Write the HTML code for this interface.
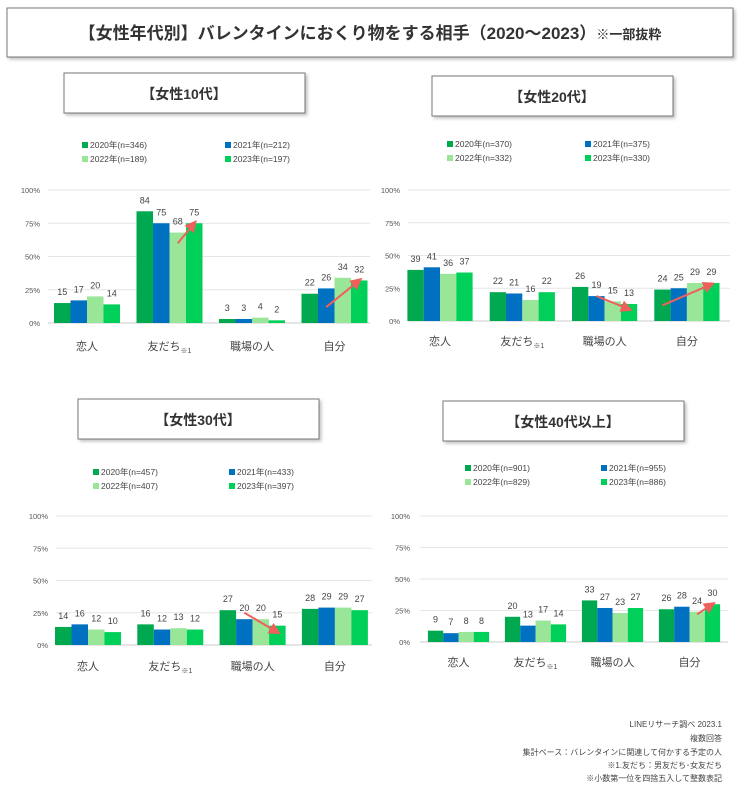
<!DOCTYPE html>
<html><head><meta charset="utf-8">
<style>
body{margin:0;background:#fff;font-family:"Liberation Sans","Noto Sans CJK JP",sans-serif;}
svg text{font-family:"Liberation Sans","Noto Sans CJK JP",sans-serif;}
</style></head>
<body>
<svg id="chart" width="740" height="787" xmlns="http://www.w3.org/2000/svg">
<defs>
<filter id="sh" x="-5%" y="-10%" width="115%" height="140%"><feDropShadow dx="2" dy="2" stdDeviation="1.5" flood-color="#999" flood-opacity="0.6"/></filter>
<marker id="ah" markerWidth="6" markerHeight="6" refX="4" refY="3" orient="auto"><path d="M0,0 L6,3 L0,6 z" fill="#f0605a"/></marker>
</defs>
<rect x="7" y="8" width="726" height="49" fill="#fff" stroke="#777" stroke-width="1" filter="url(#sh)"/>
<text x="370" y="39" text-anchor="middle" font-size="17" font-weight="bold" fill="#333">【女性年代別】バレンタインにおくり物をする相手（2020～2023）<tspan font-size="13">※一部抜粋</tspan></text>
<g font-size="8" fill="#444" text-anchor="end">
<text x="722" y="727">LINEリサーチ調べ 2023.1</text>
<text x="722" y="741">複数回答</text>
<text x="722" y="755">集計ベース：バレンタインに関連して何かする予定の人</text>
<text x="722" y="768">※1.友だち：男友だち･女友だち</text>
<text x="722" y="781">※小数第一位を四捨五入して整数表記</text>
</g>
</svg>
<script>
const categories = ["恋人","友だち","職場の人","自分"];
const seriesYears = ["2020年","2021年","2022年","2023年"];
const tickLabels = ["0%","25%","50%","75%","100%"];
const tickValues = [0,25,50,75,100];
const panelTitles = ["【女性10代】","【女性20代】","【女性30代】","【女性40代以上】"];
const nCounts10 = [346,212,189,197];
const nCounts20 = [370,375,332,330];
const nCounts30 = [457,433,407,397];
const nCounts40 = [901,955,829,886];
// values[series][category]
const values10 = [[15,84,3,22],[17,75,3,26],[20,68,4,34],[14,75,2,32]];
const values20 = [[39,22,26,24],[41,21,19,25],[36,16,15,29],[37,22,13,29]];
const values30 = [[14,16,27,28],[16,12,20,29],[12,13,20,29],[10,12,15,27]];
const values40 = [[9,20,33,26],[7,13,27,28],[8,17,23,24],[8,14,27,30]];
// arrows: [category, fromSeries, fromValue, toSeries, toValue]
const arrows10 = [[1,2,60,3,75],[3,1,12,3,32]];
const arrows20 = [[2,1,19,3,9],[3,0,12,3,28]];
const arrows30 = [[2,1,25,3,10]];
const arrows40 = [[3,2,22,3,30]];

const colors = ["#00a94f","#0070c0","#99e699","#00d05a"];
const panels = [
 {vals:values10,n:nCounts10,arr:arrows10,tb:[64,73],leg:[82,225,148],x0:48,x1:370,yTop:190,yBot:323,lblX:40,catY:350,cx:87,step:82.5,bw:16.5},
 {vals:values20,n:nCounts20,arr:arrows20,tb:[432,76],leg:[447,585,147],x0:408,x1:730,yTop:190,yBot:321,lblX:400,catY:345,cx:440,step:82.3,bw:16.3},
 {vals:values30,n:nCounts30,arr:arrows30,tb:[78,399],leg:[93,229,475],x0:56,x1:372,yTop:516,yBot:645,lblX:48,catY:670,cx:88,step:82.3,bw:16.5},
 {vals:values40,n:nCounts40,arr:arrows40,tb:[443,401],leg:[465,601,471],x0:420,x1:728,yTop:516,yBot:642,lblX:410,catY:666,cx:458.5,step:77,bw:15.3}
];
const svg = document.getElementById('chart');
const NS = "http://www.w3.org/2000/svg";
function mk(tag, attrs, parent){const e=document.createElementNS(NS,tag);for(const k in attrs)e.setAttribute(k,attrs[k]);parent.appendChild(e);return e;}
panels.forEach((p,pi)=>{
  const bw = p.bw;
  const g = mk('g',{},svg);
  
  
  const yS = v => p.yBot - (v/100)*(p.yBot-p.yTop);
  const xS = (c,s) => p.cx + c*p.step + (s-2)*bw;
  const tb = mk('rect',{x:p.tb[0],y:p.tb[1],width:241,height:40,fill:'#fff',stroke:'#777',filter:'url(#sh)'},g);
  
  
  const tt = mk('text',{x:p.tb[0]+120,y:p.tb[1]+26,'text-anchor':'middle','font-size':14,'font-weight':'bold',fill:'#333'},g);
  tt.textContent = panelTitles[pi];
  
  
  for(let s=0;s<4;s++){
    const lx = s%2===0?p.leg[0]:p.leg[1], ly = p.leg[2] + Math.floor(s/2)*14;
    const lg = mk('g',{},g);
    
    
    mk('rect',{x:lx,y:ly-6,width:6,height:6,fill:colors[s]},lg);
    const t = mk('text',{x:lx+8,y:ly,'font-size':8.5,fill:'#444'},lg);
    t.textContent = seriesYears[s]+'(n='+p.n[s]+')';
  }
  tickValues.forEach((v,i)=>{
    const y=yS(v);
    const gl = mk('line',{x1:p.x0,x2:p.x1,y1:y,y2:y,stroke:i===0?'#ccc':'#e6e6e6','stroke-width':1},g);
    
    
    const t = mk('text',{x:p.lblX,y:y+3,'text-anchor':'end','font-size':7.5,fill:'#555'},g);
    t.textContent = tickLabels[i];
    
    
  });
  for(let s=0;s<4;s++) for(let c=0;c<4;c++){
    const v=p.vals[s][c], x=xS(c,s), y=yS(v);
    const r = mk('rect',{x:x,y:y,width:bw,height:p.yBot-y,fill:colors[s]},g);
    
    
    const t = mk('text',{x:x+bw/2,y:y-8,'text-anchor':'middle','font-size':9,fill:'#444'},g);
    t.textContent = v;
    
    
  }
  categories.forEach((c,ci)=>{
    const t = mk('text',{x:p.cx+ci*p.step,y:p.catY,'text-anchor':'middle','font-size':11,fill:'#444'},g);
    t.textContent = c;
    if(ci===1){const ts=mk('tspan',{'font-size':7,dy:3},t);ts.textContent='※1';}
    
    
  });
  p.arr.forEach(a=>{
    const l = mk('line',{x1:xS(a[0],a[1])+bw/2,y1:yS(a[2]),x2:xS(a[0],a[3])+bw/2,y2:yS(a[4]),stroke:'#f0605a','stroke-width':2,'marker-end':'url(#ah)'},g);
    
    
  });
});
</script>
</body></html>
